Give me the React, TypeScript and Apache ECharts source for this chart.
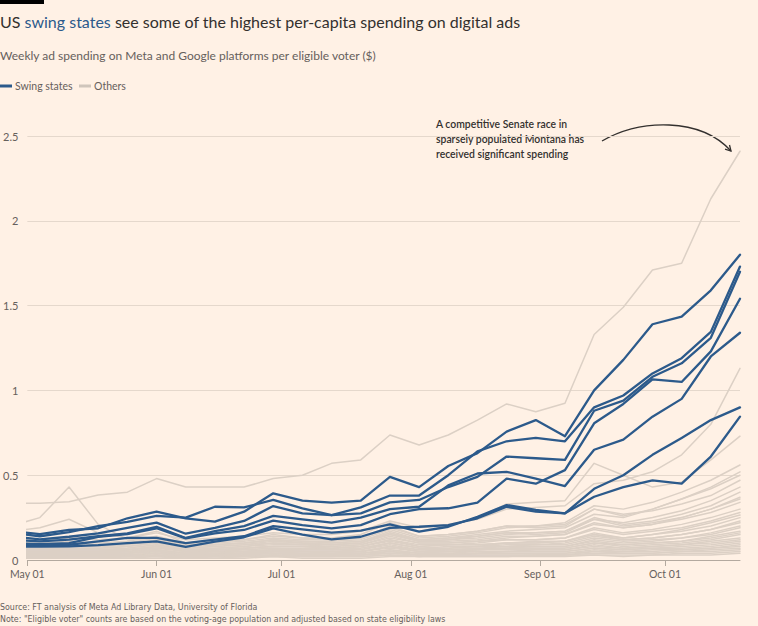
import React, { useEffect, useRef } from "react";
import * as echarts from "echarts";

// Weekly dates (Saturdays)
const weeks = [
  "2024-04-27", "2024-05-04", "2024-05-11", "2024-05-18", "2024-05-25",
  "2024-06-01", "2024-06-08", "2024-06-15", "2024-06-22", "2024-06-29",
  "2024-07-06", "2024-07-13", "2024-07-20", "2024-07-27", "2024-08-03",
  "2024-08-10", "2024-08-17", "2024-08-24", "2024-08-31", "2024-09-07",
  "2024-09-14", "2024-09-21", "2024-09-28", "2024-10-05", "2024-10-12",
  "2024-10-19",
];

const monthTicks = ["2024-05-01", "2024-06-01", "2024-07-01", "2024-08-01", "2024-09-01", "2024-10-01"];
const monthLabels = ["May 01", "Jun 01", "Jul 01", "Aug 01", "Sep 01", "Oct 01"];

// Swing states ($ per eligible voter, weekly)
const swing1 = [0.17, 0.153, 0.177, 0.187, 0.246, 0.285, 0.246, 0.226, 0.285, 0.393, 0.35, 0.338, 0.35, 0.49, 0.43, 0.554, 0.63, 0.757, 0.825, 0.73, 1.0, 1.18, 1.39, 1.435, 1.59, 1.8];
const swing2 = [0.16, 0.14, 0.165, 0.2, 0.225, 0.26, 0.25, 0.314, 0.31, 0.354, 0.305, 0.265, 0.31, 0.38, 0.38, 0.5, 0.64, 0.7, 0.72, 0.7, 0.9, 0.97, 1.1, 1.19, 1.345, 1.73];
const swing3 = [0.14, 0.122, 0.137, 0.157, 0.19, 0.22, 0.155, 0.19, 0.23, 0.318, 0.275, 0.265, 0.275, 0.34, 0.354, 0.43, 0.49, 0.61, 0.6, 0.59, 0.88, 0.94, 1.08, 1.16, 1.31, 1.7];
const swing4 = [0.1, 0.094, 0.1, 0.137, 0.153, 0.187, 0.128, 0.157, 0.177, 0.232, 0.206, 0.187, 0.206, 0.27, 0.3, 0.305, 0.338, 0.48, 0.45, 0.53, 0.806, 0.92, 1.065, 1.05, 1.23, 1.54];
const swing5 = [0.12, 0.11, 0.12, 0.14, 0.157, 0.196, 0.13, 0.17, 0.2, 0.26, 0.24, 0.22, 0.25, 0.3, 0.314, 0.44, 0.51, 0.52, 0.48, 0.436, 0.65, 0.71, 0.845, 0.95, 1.2, 1.34];
const swing6 = [0.09, 0.085, 0.09, 0.11, 0.13, 0.13, 0.1, 0.12, 0.14, 0.2, 0.18, 0.161, 0.173, 0.21, 0.167, 0.196, 0.255, 0.324, 0.295, 0.275, 0.42, 0.5, 0.62, 0.72, 0.825, 0.9];
const swing7 = [0.08, 0.079, 0.08, 0.088, 0.1, 0.11, 0.078, 0.108, 0.134, 0.187, 0.15, 0.122, 0.137, 0.19, 0.196, 0.206, 0.246, 0.314, 0.285, 0.275, 0.373, 0.43, 0.47, 0.45, 0.61, 0.845];

// Other states
const montana = [0.335, 0.335, 0.344, 0.383, 0.4, 0.48, 0.43, 0.43, 0.43, 0.48, 0.5, 0.57, 0.59, 0.737, 0.678, 0.737, 0.825, 0.92, 0.874, 0.924, 1.33, 1.49, 1.71, 1.75, 2.13, 2.41];
const other2 = [0.12, 0.12, 0.13, 0.12, 0.13, 0.16, 0.12, 0.13, 0.14, 0.16, 0.15, 0.15, 0.17, 0.23, 0.19, 0.21, 0.24, 0.3, 0.31, 0.32, 0.45, 0.47, 0.52, 0.62, 0.8, 1.13];
const other3 = [0.1, 0.1, 0.11, 0.1, 0.11, 0.14, 0.1, 0.11, 0.12, 0.14, 0.13, 0.13, 0.15, 0.22, 0.17, 0.2, 0.25, 0.33, 0.34, 0.35, 0.57, 0.5, 0.43, 0.46, 0.59, 0.73];
const other4 = [0.2, 0.25, 0.43, 0.21, 0.12, 0.13, 0.08, 0.09, 0.1, 0.12, 0.1, 0.09, 0.1, 0.16, 0.11, 0.12, 0.14, 0.16, 0.15, 0.16, 0.24, 0.2, 0.22, 0.25, 0.3, 0.36];
const other5 = [0.17, 0.19, 0.24, 0.16, 0.13, 0.17, 0.1, 0.11, 0.12, 0.15, 0.13, 0.12, 0.13, 0.2, 0.14, 0.15, 0.17, 0.2, 0.19, 0.2, 0.3, 0.26, 0.3, 0.36, 0.43, 0.52];
const other6 = [0.07, 0.07, 0.08, 0.08, 0.09, 0.11, 0.08, 0.09, 0.1, 0.12, 0.11, 0.11, 0.12, 0.18, 0.13, 0.14, 0.16, 0.19, 0.2, 0.22, 0.32, 0.3, 0.34, 0.4, 0.47, 0.56];
const other7 = [0.06, 0.06, 0.07, 0.07, 0.08, 0.1, 0.07, 0.08, 0.09, 0.11, 0.1, 0.1, 0.11, 0.16, 0.12, 0.13, 0.15, 0.17, 0.18, 0.19, 0.27, 0.25, 0.3, 0.36, 0.42, 0.5];
const other8 = [0.09, 0.09, 0.1, 0.09, 0.1, 0.13, 0.09, 0.1, 0.11, 0.13, 0.12, 0.12, 0.13, 0.19, 0.14, 0.15, 0.17, 0.2, 0.2, 0.21, 0.3, 0.27, 0.29, 0.33, 0.38, 0.47];
const other9 = [0.05, 0.05, 0.06, 0.06, 0.07, 0.09, 0.06, 0.07, 0.08, 0.1, 0.09, 0.09, 0.1, 0.15, 0.11, 0.12, 0.13, 0.15, 0.16, 0.17, 0.24, 0.22, 0.25, 0.29, 0.35, 0.43];
const other10 = [0.08, 0.08, 0.08, 0.08, 0.09, 0.12, 0.08, 0.09, 0.1, 0.12, 0.11, 0.1, 0.11, 0.17, 0.12, 0.13, 0.14, 0.16, 0.16, 0.17, 0.25, 0.21, 0.23, 0.27, 0.32, 0.4];
const other11 = [0.04, 0.04, 0.05, 0.05, 0.06, 0.08, 0.05, 0.06, 0.07, 0.08, 0.08, 0.08, 0.09, 0.13, 0.1, 0.1, 0.11, 0.13, 0.14, 0.15, 0.21, 0.19, 0.21, 0.25, 0.3, 0.37];
const other12 = [0.07, 0.07, 0.07, 0.07, 0.08, 0.1, 0.07, 0.08, 0.09, 0.1, 0.1, 0.09, 0.1, 0.15, 0.11, 0.11, 0.12, 0.14, 0.14, 0.15, 0.22, 0.19, 0.21, 0.24, 0.28, 0.34];
const other13 = [0.05, 0.05, 0.05, 0.05, 0.06, 0.08, 0.05, 0.06, 0.07, 0.08, 0.08, 0.07, 0.08, 0.12, 0.09, 0.09, 0.1, 0.12, 0.12, 0.13, 0.19, 0.16, 0.18, 0.21, 0.25, 0.3];
const other14 = [0.06, 0.06, 0.06, 0.06, 0.07, 0.09, 0.06, 0.07, 0.08, 0.09, 0.09, 0.08, 0.09, 0.14, 0.1, 0.1, 0.11, 0.12, 0.12, 0.13, 0.18, 0.15, 0.17, 0.19, 0.23, 0.28];
const other15 = [0.03, 0.03, 0.04, 0.04, 0.05, 0.06, 0.04, 0.05, 0.05, 0.06, 0.06, 0.06, 0.07, 0.1, 0.07, 0.08, 0.08, 0.1, 0.1, 0.11, 0.15, 0.13, 0.15, 0.18, 0.22, 0.265];
const other16 = [0.05, 0.05, 0.05, 0.05, 0.06, 0.07, 0.05, 0.06, 0.06, 0.07, 0.07, 0.07, 0.08, 0.11, 0.08, 0.09, 0.09, 0.1, 0.11, 0.11, 0.16, 0.13, 0.15, 0.17, 0.2, 0.25];
const other17 = [0.04, 0.04, 0.04, 0.04, 0.05, 0.06, 0.04, 0.05, 0.05, 0.06, 0.06, 0.06, 0.06, 0.1, 0.07, 0.07, 0.08, 0.09, 0.09, 0.1, 0.14, 0.12, 0.13, 0.15, 0.18, 0.23];
const other18 = [0.06, 0.06, 0.06, 0.06, 0.06, 0.08, 0.06, 0.06, 0.07, 0.08, 0.08, 0.07, 0.08, 0.12, 0.08, 0.09, 0.09, 0.1, 0.1, 0.11, 0.15, 0.12, 0.13, 0.15, 0.18, 0.22];
const other19 = [0.03, 0.03, 0.03, 0.03, 0.04, 0.05, 0.03, 0.04, 0.04, 0.05, 0.05, 0.05, 0.05, 0.08, 0.06, 0.06, 0.07, 0.08, 0.08, 0.08, 0.12, 0.1, 0.11, 0.13, 0.16, 0.2];
const other20 = [0.05, 0.05, 0.05, 0.05, 0.05, 0.07, 0.05, 0.05, 0.06, 0.07, 0.06, 0.06, 0.07, 0.1, 0.07, 0.07, 0.08, 0.08, 0.09, 0.09, 0.13, 0.11, 0.12, 0.13, 0.15, 0.19];
const other21 = [0.02, 0.02, 0.03, 0.03, 0.03, 0.04, 0.03, 0.03, 0.04, 0.05, 0.04, 0.04, 0.05, 0.07, 0.05, 0.05, 0.06, 0.07, 0.07, 0.07, 0.1, 0.09, 0.1, 0.11, 0.14, 0.17];
const other22 = [0.04, 0.04, 0.04, 0.04, 0.04, 0.06, 0.04, 0.05, 0.05, 0.06, 0.05, 0.05, 0.06, 0.09, 0.06, 0.06, 0.07, 0.07, 0.08, 0.08, 0.11, 0.09, 0.1, 0.11, 0.13, 0.16];
const other23 = [0.03, 0.03, 0.03, 0.03, 0.04, 0.05, 0.03, 0.04, 0.04, 0.05, 0.05, 0.04, 0.05, 0.08, 0.05, 0.06, 0.06, 0.07, 0.07, 0.07, 0.1, 0.08, 0.09, 0.1, 0.12, 0.15];
const other24 = [0.02, 0.02, 0.02, 0.02, 0.03, 0.04, 0.02, 0.03, 0.03, 0.04, 0.04, 0.03, 0.04, 0.06, 0.04, 0.05, 0.05, 0.05, 0.06, 0.06, 0.08, 0.07, 0.08, 0.09, 0.11, 0.13];
const other25 = [0.04, 0.04, 0.04, 0.04, 0.04, 0.05, 0.04, 0.04, 0.05, 0.05, 0.05, 0.05, 0.05, 0.08, 0.05, 0.05, 0.06, 0.06, 0.06, 0.06, 0.09, 0.07, 0.08, 0.09, 0.1, 0.12];
const other26 = [0.02, 0.02, 0.02, 0.02, 0.02, 0.03, 0.02, 0.03, 0.03, 0.04, 0.03, 0.03, 0.04, 0.05, 0.04, 0.04, 0.04, 0.05, 0.05, 0.05, 0.07, 0.06, 0.07, 0.08, 0.09, 0.11];
const other27 = [0.03, 0.03, 0.03, 0.03, 0.03, 0.04, 0.03, 0.03, 0.04, 0.04, 0.04, 0.04, 0.04, 0.06, 0.04, 0.04, 0.05, 0.05, 0.05, 0.05, 0.07, 0.06, 0.07, 0.07, 0.08, 0.1];
const other28 = [0.01, 0.01, 0.02, 0.02, 0.02, 0.03, 0.02, 0.02, 0.02, 0.03, 0.03, 0.03, 0.03, 0.04, 0.03, 0.03, 0.04, 0.04, 0.04, 0.04, 0.06, 0.05, 0.06, 0.06, 0.07, 0.09];
const other29 = [0.02, 0.02, 0.02, 0.02, 0.02, 0.03, 0.02, 0.02, 0.03, 0.03, 0.03, 0.03, 0.03, 0.05, 0.03, 0.03, 0.04, 0.04, 0.04, 0.04, 0.05, 0.05, 0.05, 0.06, 0.07, 0.08];
const other30 = [0.01, 0.01, 0.01, 0.01, 0.02, 0.02, 0.01, 0.02, 0.02, 0.02, 0.02, 0.02, 0.02, 0.03, 0.02, 0.03, 0.03, 0.03, 0.03, 0.03, 0.05, 0.04, 0.04, 0.05, 0.06, 0.07];
const other31 = [0.02, 0.02, 0.02, 0.02, 0.02, 0.02, 0.02, 0.02, 0.02, 0.03, 0.02, 0.02, 0.03, 0.04, 0.03, 0.03, 0.03, 0.03, 0.03, 0.03, 0.04, 0.04, 0.04, 0.05, 0.05, 0.06];
const other32 = [0.01, 0.01, 0.01, 0.01, 0.01, 0.02, 0.01, 0.01, 0.02, 0.02, 0.02, 0.02, 0.02, 0.03, 0.02, 0.02, 0.02, 0.02, 0.03, 0.03, 0.03, 0.03, 0.03, 0.04, 0.04, 0.05];
const other33 = [0.01, 0.01, 0.01, 0.01, 0.01, 0.01, 0.01, 0.01, 0.01, 0.02, 0.01, 0.01, 0.01, 0.02, 0.02, 0.02, 0.02, 0.02, 0.02, 0.02, 0.03, 0.02, 0.03, 0.03, 0.03, 0.04];

const swingSeries = [swing1, swing2, swing3, swing4, swing5, swing6, swing7];
const otherSeries = [
  montana, other2, other3, other4, other5, other6, other7, other8, other9, other10,
  other11, other12, other13, other14, other15, other16, other17, other18, other19, other20,
  other21, other22, other23, other24, other25, other26, other27, other28, other29, other30,
  other31, other32, other33,
];

const BG = "#fff1e5";
const BLUE = "#2c5a8b";
const GREY = "#dcd0c5";
const TEXT = "#33302e";
const MUTED = "#66605c";
const AXIS = "#b3a99f";
const FONT = "Lato, 'Noto Sans', sans-serif";
const NARROW = "'Liberation Sans Narrow', 'DejaVu Sans Condensed', Lato, sans-serif";

// day index since 2024-05-01 (UTC-based, timezone independent)
function dayNum(s: string) {
  const [y, m, d] = s.split("-").map(Number);
  return Math.round((Date.UTC(y, m - 1, d) - Date.UTC(2024, 4, 1)) / 86400000);
}

export default function App() {
  const ref = useRef<HTMLDivElement>(null);

  useEffect(() => {
    if (!ref.current) return;
    const chart = echarts.init(ref.current, undefined, { renderer: "svg" });
    const days = weeks.map(dayNum);
    const tickDays = monthTicks.map(dayNum);
    const xMin = dayNum("2024-05-01");
    const xMax = dayNum("2024-10-19");

    const mk = (vals: number[], name: string, color: string, width: number, z: number) => ({
      type: "line",
      name,
      data: vals.map((v, i) => [days[i], v]),
      showSymbol: false,
      symbol: "none",
      silent: true,
      clip: true,
      z,
      lineStyle: { color, width, cap: "round", join: "round" },
    });

    const series: any[] = [];
    otherSeries.forEach((s, i) => series.push(mk(s, "Others " + (i + 1), GREY, 1.5, 2)));
    swingSeries.forEach((s, i) => series.push(mk(s, "Swing state " + (i + 1), BLUE, 2.3, 3)));

    const ax = 731, ay = 151;

    chart.setOption({
      animation: false,
      backgroundColor: BG,
      textStyle: { fontFamily: FONT },
      grid: { left: 24, right: 18, top: 136, bottom: 66, containLabel: false },
      xAxis: [
        {
          // month ticks (the axis line itself)
          type: "value",
          min: xMin,
          max: xMax,
          axisLine: { show: true, onZero: false, lineStyle: { color: AXIS, width: 1 } },
          axisTick: { show: true, length: 6, lineStyle: { color: AXIS }, customValues: [...tickDays, xMax + 30] },
          axisLabel: {
            customValues: [...tickDays, xMax + 30],
            color: MUTED,
            fontSize: 10.5,
            fontFamily: FONT,
            margin: 8,
            formatter: (v: number) => {
              const idx = tickDays.indexOf(v);
              return idx >= 0 ? monthLabels[idx] : "";
            },
          },
          splitLine: { show: false },
        },
      ],
      yAxis: {
        type: "value",
        min: 0,
        max: 2.5,
        interval: 0.5,
        axisLine: { show: false },
        axisTick: { show: false },
        axisLabel: { color: MUTED, fontSize: 11, fontFamily: FONT, margin: 9 },
        splitLine: { lineStyle: { color: "#e5d8cc", width: 1 } },
      },
      series,
      graphic: [
        { type: "rect", shape: { x: 0, y: 0, width: 44, height: 4 }, style: { fill: "#000" } },
        {
          type: "text",
          x: 0,
          y: 21,
          style: {
            text: "{a|US }{b|swing states}{a| see some of the highest per-capita spending on digital ads}",
            verticalAlign: "middle",
            rich: {
              a: { fontSize: 16, fontFamily: FONT, fill: TEXT },
              b: { fontSize: 16, fontFamily: FONT, fill: BLUE },
            },
          },
        },
        {
          type: "text",
          x: 0,
          y: 55,
          style: {
            text: "Weekly ad spending on Meta and Google platforms per eligible voter ($)",
            fontSize: 12,
            fontFamily: FONT,
            fill: MUTED,
            verticalAlign: "middle",
          },
        },
        { type: "line", shape: { x1: 0, y1: 86, x2: 12, y2: 86 }, style: { stroke: BLUE, lineWidth: 3 } },
        {
          type: "text",
          x: 15,
          y: 86,
          style: { text: "Swing states", fontSize: 10.5, fontFamily: FONT, fill: MUTED, verticalAlign: "middle" },
        },
        { type: "line", shape: { x1: 79, y1: 86, x2: 91, y2: 86 }, style: { stroke: "#cfc5bb", lineWidth: 3 } },
        {
          type: "text",
          x: 94,
          y: 86,
          style: { text: "Others", fontSize: 10.5, fontFamily: FONT, fill: MUTED, verticalAlign: "middle" },
        },
        {
          type: "text",
          x: 436,
          y: 116,
          style: {
            text: "A competitive Senate race in\nsparsely populated Montana has\nreceived significant spending",
            fontSize: 10.4,
            fontWeight: 600,
            lineHeight: 15.3,
            fontFamily: FONT,
            fill: TEXT,
            verticalAlign: "top",
          },
        },
        {
          type: "bezierCurve",
          shape: { x1: 602, y1: 141, cpx1: 640, cpy1: 119, cpx2: 700, cpy2: 117, x2: ax, y2: ay },
          style: { stroke: TEXT, lineWidth: 1.3, fill: null },
        },
        {
          type: "polyline",
          shape: { points: [[ax - 1.5, ay - 6], [ax, ay], [ax - 6, ay - 1.8]] },
          style: { stroke: TEXT, lineWidth: 1.3, fill: null },
        },
        {
          type: "text",
          x: 0,
          y: 607,
          style: {
            text: "Source: FT analysis of Meta Ad Library Data, University of Florida",
            fontSize: 8.8,
            fontFamily: NARROW,
            fill: MUTED,
            verticalAlign: "middle",
          },
        },
        {
          type: "text",
          x: 0,
          y: 619,
          style: {
            text: "Note: \"Eligible voter\" counts are based on the voting-age population and adjusted based on state eligibility laws",
            fontSize: 8.8,
            fontFamily: NARROW,
            fill: MUTED,
            verticalAlign: "middle",
          },
        },
      ],
    });

    return () => chart.dispose();
  }, []);

  return (
    <div
      ref={ref}
      style={{ position: "absolute", left: 0, top: 0, width: 758, height: 626, background: BG }}
    />
  );
}
